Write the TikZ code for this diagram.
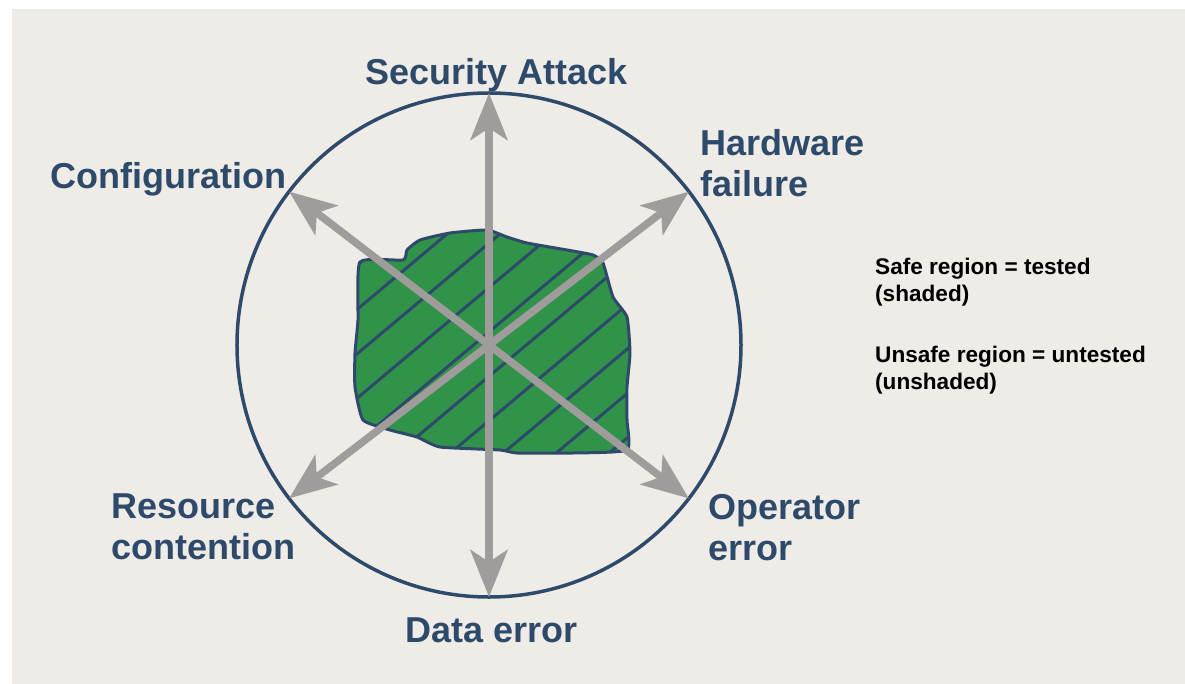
\documentclass[tikz,border=0pt]{standalone}
\usepackage{fontspec}
\setmainfont{Liberation Sans}
\usetikzlibrary{arrows.meta}

\definecolor{panelgrey}{HTML}{EFECE8}
\definecolor{labelblue}{HTML}{2E4A6B}
\definecolor{spokegrey}{HTML}{A09C9C}
\definecolor{blobgreen}{HTML}{31924A}

% outline of the tested (safe) region
\newcommand{\safeblob}{plot[smooth cycle, tension=0.3] coordinates {
    (-129,83) (-86,85) (-82,95) (-69,105) (-39,112) (-2,115) (18,108)
    (38,102) (78,95) (104,90) (114,82) (124,48) (138,28) (141,-8)
    (138,-42) (138,-75) (138,-105) (84,-108) (28,-108) (11,-105)
    (-49,-102) (-72,-92) (-99,-85) (-126,-75) (-134,-42) (-134,-8)
    (-131,25)}}

\begin{document}
\begin{tikzpicture}[x=1pt, y=1pt,
    spoke/.style={draw=spokegrey, line width=7.5pt,
        {Stealth[length=47pt, width=37pt, inset=12pt]}-{Stealth[length=47pt, width=37pt, inset=12pt]}},
    lbl/.style={text=labelblue, inner sep=0pt, align=left,
        font=\fontsize{36}{41}\selectfont\bfseries},
    note/.style={text=black, inner sep=0pt, align=left,
        font=\fontsize{22.6}{27}\selectfont\bfseries},
    hatch/.style={draw=labelblue, line width=3pt}]

    % 1. Nền
    \useasboundingbox (-489,-338) rectangle (696,345);
    \fill[white] (-495,-345) rectangle (705,350);
    \fill[panelgrey] (-477,-345) rectangle (705,336);

    % 2. Đường tròn
    \draw[labelblue, line width=3.5pt] (0,0) circle[radius=252];

    % 3. Vùng đã kiểm thử (tô xanh, gạch chéo)
    \fill[blobgreen] \safeblob;
    \begin{scope}
        \clip \safeblob;
        \begin{scope}[rotate=40]
            \foreach \k in {-9,...,2} {
                \draw[hatch] (-300, 112+34*\k) -- (300, 112+34*\k);
            }
        \end{scope}
    \end{scope}
    \draw[labelblue, line width=3pt] \safeblob;

    % 4. Các đầu mút trên đường tròn
    \coordinate (sa) at (90:252);
    \coordinate (de) at (270:252);
    \coordinate (hw) at (37.5:252);
    \coordinate (rc) at (217.5:252);
    \coordinate (cf) at (142.5:252);
    \coordinate (oe) at (322.5:252);

    % 5. Mũi tên hai chiều
    \draw[spoke] (sa) -- (de);
    \draw[spoke] (hw) -- (rc);
    \draw[spoke] (cf) -- (oe);

    % 6. Nhãn
    \node[lbl, anchor=base] (tsa) at (8,260) {Security Attack};
    \node[lbl, anchor=north west] (thw) at (211,216) {Hardware\\failure};
    \node[lbl, anchor=base west] (tcf) at (-439,157) {Configuration};
    \node[lbl, anchor=north west] (trc) at (-378,-149) {Resource\\contention};
    \node[lbl, anchor=north west] (toe) at (219,-149) {Operator\\error};
    \node[lbl, anchor=base] (tde) at (3,-297) {Data error};

    % 7. Chú thích
    \node[note, anchor=north west] (tnote) at (386,87)
        {Safe region = tested\\(shaded)\\[34pt]Unsafe region = untested\\(unshaded)};
\end{tikzpicture}
\end{document}
